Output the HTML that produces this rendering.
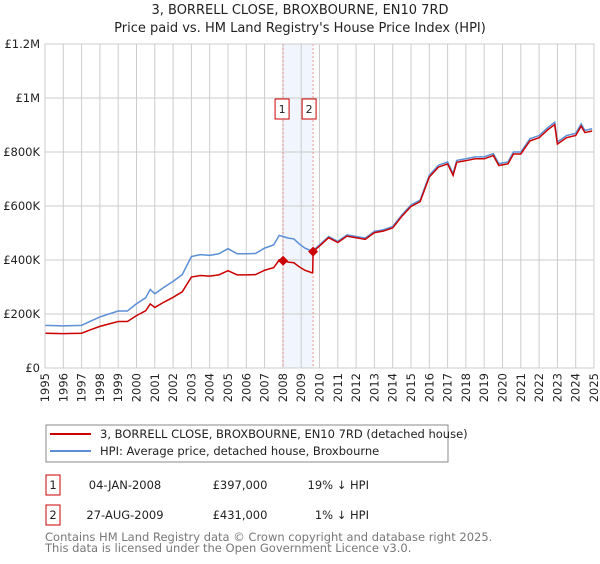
<!DOCTYPE html>
<html><head><meta charset="utf-8">
<style>
body{margin:0;background:#fff;font-family:"DejaVu Sans","Liberation Sans",sans-serif;}
svg text{font-family:"DejaVu Sans","Liberation Sans",sans-serif;}
</style></head>
<body>
<svg width="600" height="560" viewBox="0 0 600 560">
<text x="300" y="14" text-anchor="middle" font-size="13" fill="#222">3, BORRELL CLOSE, BROXBOURNE, EN10 7RD</text>
<text x="300" y="32" text-anchor="middle" font-size="13" fill="#222">Price paid vs. HM Land Registry's House Price Index (HPI)</text>
<g id="plot"></g>
<g>
<rect x="46" y="425" width="402" height="37" fill="#fff" stroke="#888"/>
<line x1="50" y1="434" x2="91" y2="434" stroke="#cc0000" stroke-width="2"/>
<text x="100" y="438" font-size="11.5" fill="#222">3, BORRELL CLOSE, BROXBOURNE, EN10 7RD (detached house)</text>
<line x1="50" y1="451" x2="91" y2="451" stroke="#5b8fd6" stroke-width="2"/>
<text x="100" y="455" font-size="11.5" fill="#222">HPI: Average price, detached house, Broxbourne</text>
</g>
<g font-size="11.5" fill="#222">
<rect x="46" y="475" width="14" height="20" fill="#fff" stroke="#cc0000"/>
<text x="53" y="489" text-anchor="middle">1</text>
<text x="125" y="489" text-anchor="middle">04-JAN-2008</text>
<text x="240" y="489" text-anchor="middle">£397,000</text>
<text x="369" y="489" text-anchor="end">19% ↓ HPI</text>
<rect x="46" y="505" width="14" height="20" fill="#fff" stroke="#cc0000"/>
<text x="53" y="519" text-anchor="middle">2</text>
<text x="125" y="519" text-anchor="middle">27-AUG-2009</text>
<text x="240" y="519" text-anchor="middle">£431,000</text>
<text x="369" y="519" text-anchor="end">1% ↓ HPI</text>
</g>
<text x="45" y="541" font-size="11.5" fill="#777">Contains HM Land Registry data © Crown copyright and database right 2025.</text>
<text x="45" y="552" font-size="11.5" fill="#777">This data is licensed under the Open Government Licence v3.0.</text>
</svg>
<script>
const hpiYears=[1995,1996,1997,1997.5,1998,1999,1999.5,2000,2000.5,2000.75,2001,2001.5,2002,2002.5,2003,2003.5,2004,2004.5,2005,2005.5,2006,2006.5,2007,2007.5,2007.8,2008,2008.3,2008.6,2008.9,2009.2,2009.6,2010,2010.5,2011,2011.5,2012,2012.5,2013,2013.5,2014,2014.5,2015,2015.5,2016,2016.5,2017,2017.3,2017.5,2018,2018.5,2019,2019.5,2019.8,2020.3,2020.6,2021,2021.5,2022,2022.5,2022.85,2023,2023.5,2024,2024.3,2024.5,2024.9];
const hpiValues=[158,156,158,174,189,211,211,238,260,291,275,299,321,346,413,420,417,423,442,423,423,424,444,456,491,487,481,478,459,444,432,456,487,469,493,487,481,506,512,524,567,604,622,714,751,763,720,769,775,782,782,794,757,763,800,800,849,861,892,910,837,861,869,904,880,886];
const saleYears=[2008.01,2009.65];
const salePrices=[397,431];
const saleLabels=["1","2"];
const yTicks=[0,200,400,600,800,1000,1200];
const yTickLabels=["£0","£200K","£400K","£600K","£800K","£1M","£1.2M"];
const xTicks=[1995,1996,1997,1998,1999,2000,2001,2002,2003,2004,2005,2006,2007,2008,2009,2010,2011,2012,2013,2014,2015,2016,2017,2018,2019,2020,2021,2022,2023,2024,2025];

const L=45,R=594,T=44,B=368;
const xs=v=>L+(v-1995)/30*(R-L);
const ys=v=>B-v/1200*(B-T);
const NS="http://www.w3.org/2000/svg";
const g=document.getElementById('plot');
function mk(tag,attrs,parent){const e=document.createElementNS(NS,tag);for(const k in attrs)e.setAttribute(k,attrs[k]);(parent||g).appendChild(e);return e;}
function hpiAt(y){for(let i=0;i<hpiYears.length-1;i++){if(y>=hpiYears[i]&&y<=hpiYears[i+1]){const t=(y-hpiYears[i])/(hpiYears[i+1]-hpiYears[i]);return hpiValues[i]+t*(hpiValues[i+1]-hpiValues[i]);}}return hpiValues[hpiValues.length-1];}

const sh=mk('rect',{x:xs(saleYears[0]),y:T,width:xs(saleYears[1])-xs(saleYears[0]),height:B-T,fill:'#f1f5fd'});


xTicks.forEach((t,i)=>{
 const l=mk('line',{x1:xs(t),x2:xs(t),y1:T,y2:B,stroke:'#cccccc','stroke-width':1});
 
 
 const tx=mk('text',{x:0,y:0,'font-size':11.5,fill:'#222','text-anchor':'end',transform:`translate(${xs(t)+4},${B+5}) rotate(-90)`});
 tx.textContent=t;
 
 
});
yTicks.forEach((t,i)=>{
 const l=mk('line',{x1:L,x2:R,y1:ys(t),y2:ys(t),stroke:'#cccccc','stroke-width':1});
 
 
 const tx=mk('text',{x:L-5,y:ys(t)+4,'font-size':11.5,fill:'#222','text-anchor':'end'});
 tx.textContent=yTickLabels[i];
 
 
});
saleYears.forEach((s,i)=>{
 const l=mk('line',{x1:xs(s),x2:xs(s),y1:T,y2:B,stroke:'#ee7777','stroke-width':0.8,'stroke-dasharray':'2,2'});
 
 
});
const hp=mk('polyline',{points:hpiYears.map((y,i)=>xs(y)+','+ys(hpiValues[i])).join(' '),fill:'none',stroke:'#5b8fd6','stroke-width':1.5});


const pts=[];
const r1=salePrices[0]/hpiAt(saleYears[0]),r2=salePrices[1]/hpiAt(saleYears[1]);
hpiYears.forEach((y,i)=>{if(y<saleYears[1])pts.push([y,hpiValues[i]*r1]);});
pts.push([saleYears[1]-0.02,hpiAt(saleYears[1])*r1]);
pts.push([saleYears[1],salePrices[1]]);
hpiYears.forEach((y,i)=>{if(y>saleYears[1])pts.push([y,hpiValues[i]*r2]);});
const pl=mk('polyline',{points:pts.map(p=>xs(p[0])+','+ys(p[1])).join(' '),fill:'none',stroke:'#cc0000','stroke-width':1.5});


saleYears.forEach((s,i)=>{
 const cx=xs(s),cy=ys(salePrices[i]);
 const d=mk('polygon',{points:`${cx},${cy-5} ${cx+5},${cy} ${cx},${cy+5} ${cx-5},${cy}`,fill:'#cc0000'});
 
 
 const bxX=i?cx-11:cx-8;
 const bx=mk('rect',{x:bxX,y:99,width:14,height:20,fill:'#fff',stroke:'#cc0000'});
 
 
 const t=mk('text',{x:bxX+7,y:113,'font-size':11,fill:'#222','text-anchor':'middle'});
 t.textContent=saleLabels[i];
 
 
});
const fr=mk('rect',{x:L,y:T,width:R-L,height:B-T,fill:'none',stroke:'#cccccc'});


</script>
</body></html>
